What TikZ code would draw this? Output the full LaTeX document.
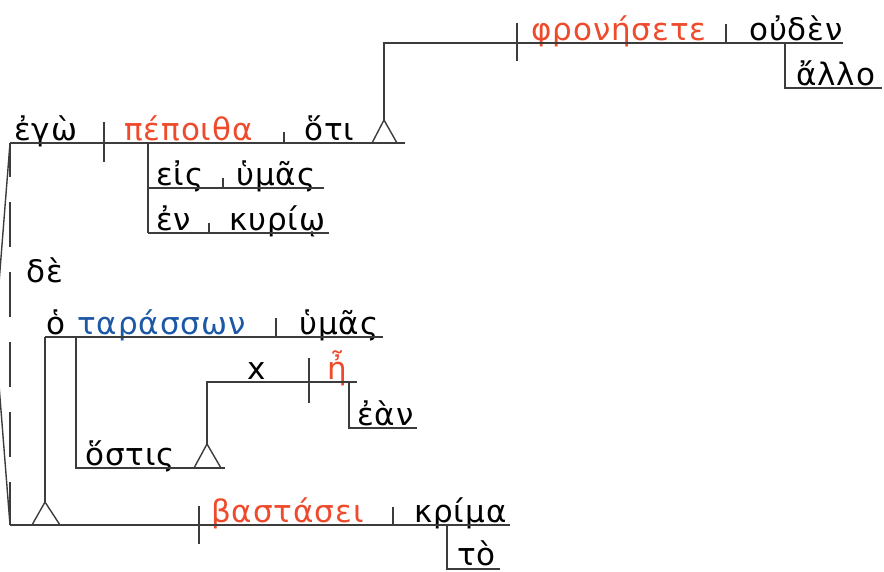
\documentclass[tikz,border=0pt]{standalone}
\usepackage{fontspec}
\setmainfont{DejaVu Sans}[LetterSpace=3]
\definecolor{vred}{HTML}{EE4A2C}
\definecolor{nblue}{HTML}{1D58A6}
\definecolor{lncol}{HTML}{3C3C3C}
\begin{document}
\begin{tikzpicture}[x=1pt,y=-1pt,
  word/.style={anchor=base west,inner sep=0pt,font=\fontsize{31}{35}\selectfont,text=black},
  verbw/.style={word,text=vred},
  partw/.style={word,text=nblue},
  ln/.style={draw=lncol,line width=1.4pt},
  dashln/.style={ln,dash pattern=on 45pt off 25pt,dash phase=11pt}]
\useasboundingbox (0,0) rectangle (884,571);
\clip (0,0) rectangle (884,571);
% texts
\node[word]  (ego)   at (14,140)  {ἐγὼ};
\node[verbw] (pep)   at (124,140) {πέποιθα};
\node[word]  (hoti)  at (304,140) {ὅτι};
\node[verbw] (phron) at (531,40)  {φρονήσετε};
\node[word]  (ouden) at (749,40)  {οὐδὲν};
\node[word]  (allo)  at (796,85)  {ἄλλο};
\node[word]  (eis)   at (156,185) {εἰς};
\node[word]  (hymas) at (236,185) {ὑμᾶς};
\node[word]  (en)    at (156,230) {ἐν};
\node[word]  (kyr)   at (229,230) {κυρίῳ};
\node[word]  (de)    at (26,282)  {δὲ};
\node[word]  (ho)    at (46,334)  {ὁ};
\node[partw] (tar)   at (77,334)  {ταράσσων};
\node[word]  (hymb)  at (299,334) {ὑμᾶς};
\node[word]  (xx)    at (247,379) {x};
\node[verbw] (ee)    at (327,379) {ἦ};
\node[word]  (ean)   at (357,425) {ἐὰν};
\node[word]  (hostis) at (85,465) {ὅστις};
\node[verbw] (bast)  at (211,522) {βαστάσει};
\node[word]  (krima) at (414,522) {κρίμα};
\node[word,text depth=0pt]  (to)    at (457,565) {τὸ};
% coordinates
\coordinate (L1s) at (10,143);  \coordinate (L1e) at (405,143);
\coordinate (T1a) at (384,120);
\coordinate (L0s) at (384,43);  \coordinate (L0e) at (843,43);
\coordinate (L2s) at (45,337);  \coordinate (L2e) at (383,337);
\coordinate (L3s) at (10,525);  \coordinate (L3e) at (510,525);
\coordinate (Apx) at (-5,334);
% clause 1
\draw[ln] (L1s) -- (L1e);
\draw[ln] (104,122) -- (104,162);
\draw[ln] (284,132) -- (284,143);
\draw[ln] (372,143) -- (T1a) -- (397,143);
\draw[ln] (T1a) -- (L0s) -- (L0e);
\draw[ln] (517,23) -- (517,61);
\draw[ln] (726,24) -- (726,43);
\draw[ln] (785,43) -- (785,88) -- (882,88);
\draw[ln] (148,143) -- (148,233);
\draw[ln] (148,188) -- (324,188);
\draw[ln] (148,233) -- (329,233);
\draw[ln] (223,178) -- (223,188);
\draw[ln] (209,223) -- (209,233);
% conjunction
\draw[dashln] (L1s) -- (L3s);
\draw[ln] (L1s) -- (Apx) -- (L3s);
% clause 2
\draw[ln] (L2s) -- (L2e);
\draw[ln] (276,318) -- (276,337);
\draw[ln] (L2s) -- (45,502);
\draw[ln] (32,525) -- (45,502) -- (60,525);
\draw[ln] (76,337) -- (76,468) -- (225,468);
\draw[ln] (194,468) -- (207,444) -- (221,468);
\draw[ln] (207,444) -- (207,382) -- (357,382);
\draw[ln] (309,358) -- (309,403);
\draw[ln] (349,382) -- (349,428) -- (417,428);
\draw[ln] (L3s) -- (L3e);
\draw[ln] (199,506) -- (199,544);
\draw[ln] (393,507) -- (393,525);
\draw[ln] (447,525) -- (447,569) -- (500,569);
\end{tikzpicture}
\end{document}
